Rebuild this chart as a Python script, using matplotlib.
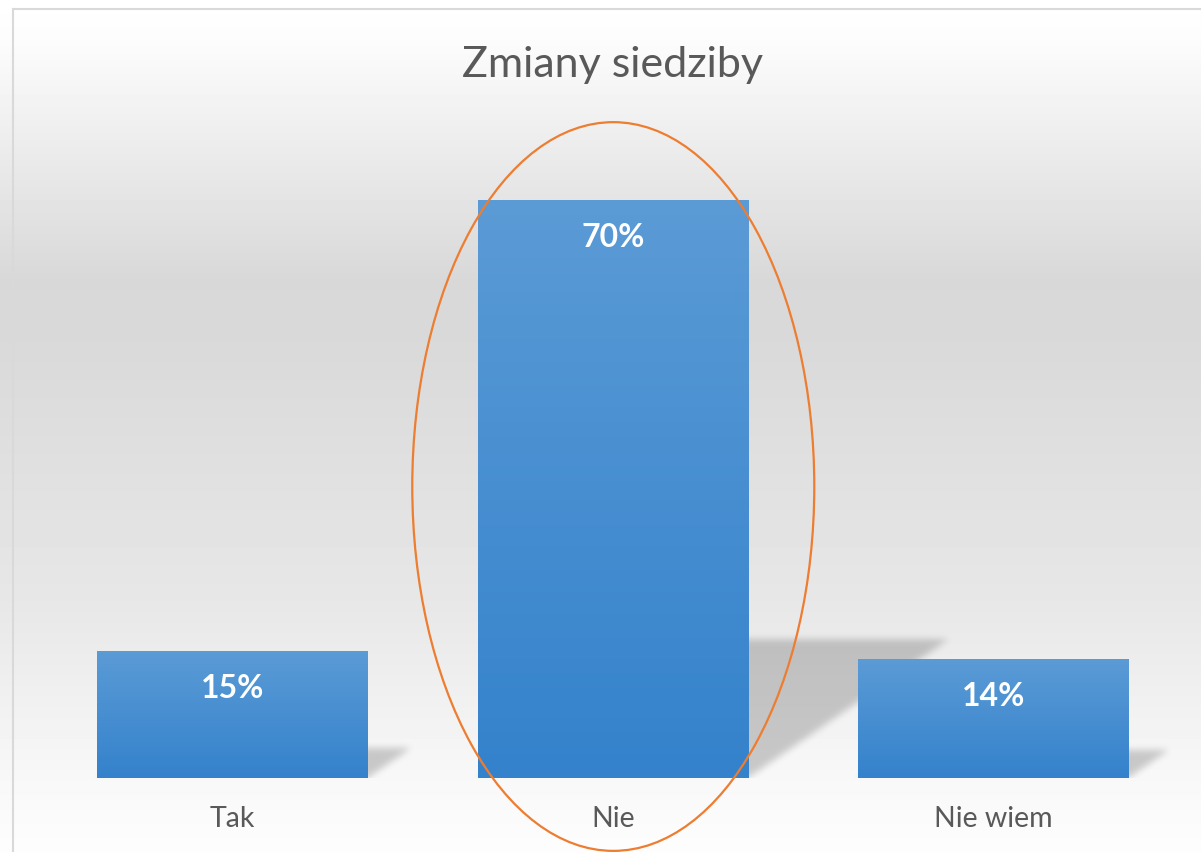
import numpy as np
import matplotlib.pyplot as plt
from matplotlib.patches import Ellipse
from matplotlib.path import Path
from matplotlib.lines import Line2D

categories = ['Tak', 'Nie', 'Nie wiem']
values = [15.4, 70.2, 14.4]
labels = ['15%', '70%', '14%']
title = 'Zmiany siedziby'

W, H = 1201, 852
FONT = ['Lato', 'DejaVu Sans']
plt.rcParams['font.family'] = FONT

fig = plt.figure(figsize=(W / 100, H / 100), dpi=100)

# background: white -> grey -> white, vertical
bg = fig.add_axes([0, 0, 1, 1], zorder=-10)
rows = np.arange(H)
grey = np.interp(rows, [0, 40, 280, 340, 600, 780, 852],
                 [255, 252, 216, 217, 231, 248, 253]) / 255
bg.imshow(np.repeat(grey[:, None], 8, axis=1), cmap='gray', vmin=0, vmax=1,
          aspect='auto', extent=(0, 1, 0, 1), interpolation='nearest')
bg.axis('off')

# thin frame at top and left
fig.add_artist(Line2D([13 / W, 13 / W], [0, 1 - 9 / H], transform=fig.transFigure,
                      color='#d9d9d9', lw=1.5))
fig.add_artist(Line2D([13 / W, 1], [1 - 9 / H, 1 - 9 / H], transform=fig.transFigure,
                      color='#d9d9d9', lw=1.5))

PX = 8.234  # pixels per percent
ax = fig.add_axes([42.4 / W, 74 / H, 1141 / W, 80 * PX / H])
ax.set_facecolor('none')
ax.set_xlim(-0.5, 2.5)
ax.set_ylim(0, 80)
x = np.arange(len(categories))
bw = 0.711

# perspective shadows, blurred
sx = PX * 0.346 / 380.25
sy = 0.239
nx, y_top = 1141, 25.0
ny = int(y_top * PX)
gx = -0.5 + (np.arange(nx) + 0.5) / nx * 3
gy = (np.arange(ny) + 0.5) / ny * y_top
GX, GY = np.meshgrid(gx, gy)
pts = np.column_stack([GX.ravel(), GY.ravel()])
mask = np.zeros(GX.shape)
for xi, v in zip(x, values):
    poly = Path([(xi - bw / 2, 0), (xi + bw / 2, 0),
                 (xi + bw / 2 + v * sx, v * sy), (xi - bw / 2 + v * sx, v * sy)])
    mask = np.maximum(mask, poly.contains_points(pts).reshape(GX.shape))
k = np.exp(-0.5 * (np.arange(-9, 10) / 3.5) ** 2)
k /= k.sum()
mask = np.apply_along_axis(lambda r: np.convolve(r, k, mode='same'), 1, mask)
mask = np.apply_along_axis(lambda c: np.convolve(c, k, mode='same'), 0, mask)
shadow = np.zeros(GX.shape + (4,))
shadow[..., 3] = mask * 0.19
ax.imshow(shadow, origin='lower', extent=(-0.5, 2.5, 0, y_top), aspect='auto', zorder=1)

# bars with vertical gradient
bars = ax.bar(x, values, width=bw, color='none', zorder=2)
top_c = np.array([91, 155, 214]) / 255
bot_c = np.array([52, 130, 204]) / 255
t = np.linspace(0, 1, 256)[:, None]
grad = (top_c * (1 - t) + bot_c * t)[:, None, :]
for b in bars:
    x0, y0 = b.get_x(), b.get_y()
    im = ax.imshow(grad, extent=(x0, x0 + b.get_width(), y0, y0 + b.get_height()),
                   aspect='auto', zorder=3, interpolation='bilinear')
    im.set_clip_path(b)

for xi, v, lab in zip(x, values, labels):
    ax.annotate(lab, (xi, v), xytext=(0, -33.8), textcoords='offset points',
                ha='center', va='baseline', color='white', fontsize=23,
                fontweight='bold', zorder=4)

ax.add_patch(Ellipse((1.001, 35.4), width=1.057, height=88.5, fill=False,
                     edgecolor='#ed7d31', lw=1.6, clip_on=False, zorder=6))

ax.set_xticks(x, categories)
ax.set_yticks([])
ax.tick_params(axis='x', length=0, pad=35.3, labelsize=20.5, labelcolor='#595959')
for tl in ax.get_xticklabels():
    tl.set_va('baseline')
for s in ax.spines.values():
    s.set_visible(False)

fig.text(612.9 / W, 1 - 77 / H, title, ha='center', va='baseline',
         fontsize=31, color='#595959')

fig.savefig('out.png', dpi=100)
